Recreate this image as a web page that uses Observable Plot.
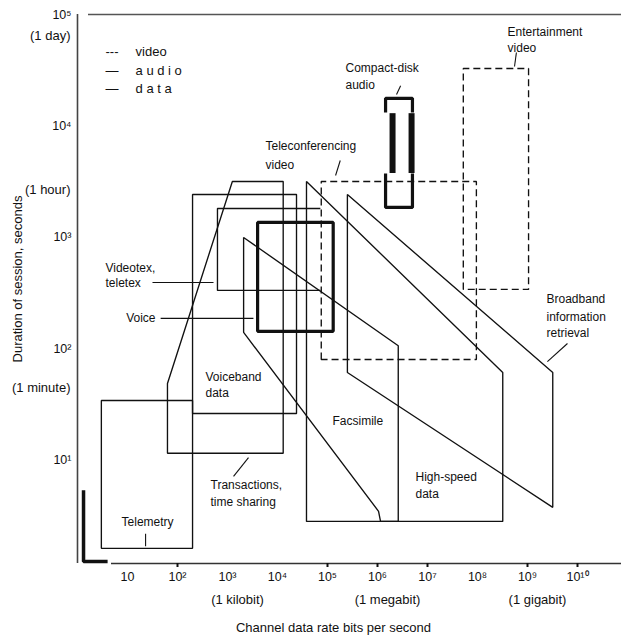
<!DOCTYPE html>
<html>
<head>
<meta charset="utf-8">
<script src="https://cdn.jsdelivr.net/npm/d3@7"></script>
<script src="https://cdn.jsdelivr.net/npm/@observablehq/plot@0.6"></script>
<style>
  html, body { margin: 0; padding: 0; background: #fff; }
  svg { display: block; }
</style>
</head>
<body>
<div id="chart"></div>
<script>
// ---- Data: [channel data rate (bits/s), session duration (s)] ----
const telemetry        = [[3, 34.5], [200, 34.5], [200, 1.63], [3, 1.63]];
const telemetryAudio   = [[1.32, 5.4], [1.32, 1.24], [4.0, 1.24]];
const transactions     = [[63, 11.6], [63, 49], [1250, 3180], [13000, 3180], [13000, 11.6]];
const voicebandData    = [[200, 26.4], [200, 2430], [24000, 2430], [24000, 26.4]];
const videotex         = [[72000, 1820], [630, 1820], [630, 335], [72000, 335]];
const voice            = [[4000, 144], [4000, 1365], [130000, 1365], [130000, 144]];
const facsimile        = [[2100, 1000], [2.6e6, 107], [2.6e6, 2.84], [1.15e6, 2.84], [1.05e6, 3.5], [2100, 141]];
const highSpeedData    = [[38000, 3180], [3.2e8, 61.5], [3.2e8, 2.84], [38000, 2.84]];
const broadband        = [[250000, 2430], [3.2e9, 61.5], [3.2e9, 3.8], [250000, 61.5]];
const teleconferencing = [[75000, 80.5], [75000, 3180], [9.5e7, 3180], [9.5e7, 80.5]];
const entertainment    = [[5.2e7, 342], [5.2e7, 32800], [1.05e9, 32800], [1.05e9, 342]];
const cdTop            = [[1.45e6, 13200], [1.45e6, 17700], [5.0e6, 17700], [5.0e6, 13200]];
const cdBottom         = [[1.45e6, 3750], [1.45e6, 1860], [5.0e6, 1860], [5.0e6, 3750]];
const cdBars           = [{x: 2.0e6, y1: 3750, y2: 12900}, {x: 4.8e6, y1: 3750, y2: 12900}];

// leader lines [x1, y1, x2, y2]
const leaders = [
  [31.6, 395, 525, 395],        // Videotex
  [46, 188, 3300, 188],         // Voice
  [2630, 10.6, 1320, 7.2],      // Transactions
  [2.5e9, 77, 6.3e9, 112],      // Broadband
  [1.45e5, 3600, 1.8e5, 4900],  // Teleconferencing
  [2.4e6, 19200, 2.9e6, 23000], // Compact-disk
  [6.0e8, 45600, 5.5e8, 34200], // Entertainment
  [23, 2.2, 23, 1.7]            // Telemetry
];

// labels (one entry per line), left-aligned
const labels = [
  {text: "Teleconferencing", x: 5750, y: 6550},
  {text: "video", x: 5750, y: 4430},
  {text: "Compact-disk", x: 229000, y: 32800},
  {text: "audio", x: 229000, y: 23100},
  {text: "Entertainment", x: 4.0e8, y: 69000},
  {text: "video", x: 4.0e8, y: 49500},
  {text: "Videotex,", x: 3.63, y: 527},
  {text: "teletex", x: 3.63, y: 386},
  {text: "Voiceband", x: 363, y: 55.5},
  {text: "data", x: 363, y: 39.9},
  {text: "Transactions,", x: 457, y: 5.97},
  {text: "time sharing", x: 457, y: 4.2},
  {text: "Facsimile", x: 126000, y: 22.4},
  {text: "High-speed", x: 5.75e6, y: 7.03},
  {text: "data", x: 5.75e6, y: 4.96},
  {text: "Broadband", x: 2.4e9, y: 278},
  {text: "information", x: 2.4e9, y: 192},
  {text: "retrieval", x: 2.4e9, y: 138},
  {text: "Telemetry", x: 7.6, y: 2.78}
];
// right-aligned labels
const labelsEnd = [{text: "Voice", x: 36.3, y: 188}];

// legend
const legendKeys  = [{text: "---", y: 46500}, {text: "—", y: 31500}, {text: "—", y: 21700}];
const legendNames = [{text: "video", y: 46500}, {text: "a u d i o", y: 31500}, {text: "d a t a", y: 21700}];

// axes
const xTicks = [10, 1e2, 1e3, 1e4, 1e5, 1e6, 1e7, 1e8, 1e9, 1e10];
const xTickLabels = ["10", "10²", "10³", "10⁴", "10⁵", "10⁶", "10⁷", "10⁸", "10⁹", "10¹⁰"];
const xTickMarks = [1e2, 1e5, 1e6, 1e7, 1e9, 1e10];
const xNotes = [1e3, 1e6, 1e9];
const xNoteLabels = ["(1 kilobit)", "(1 megabit)", "(1 gigabit)"];
const yTicks = [10, 1e2, 1e3, 1e4, 1e5];
const yTickLabels = ["10¹", "10²", "10³", "10⁴", "10⁵"];
const yNotes = [{label: "(1 day)", value: 86400}, {label: "(1 hour)", value: 3600}, {label: "(1 minute)", value: 60}];

const xMin = 1, xMax = 10 ** 10.88, yMin = 10 ** 0.076, yMax = 1e5;
const INK = "#111";

function shape(data, opts = {}) {
  return Plot.line(data, {
    x: d => d[0], y: d => d[1],
    curve: opts.open ? "linear" : "linear-closed",
    stroke: INK, strokeWidth: opts.w ?? 1.35,
    strokeDasharray: opts.dash, strokeLinejoin: "miter", strokeLinecap: "butt"
  });
}

const chart = Plot.plot({
  width: 621, height: 637,
  marginLeft: 77, marginRight: 0, marginTop: 14, marginBottom: 74,
  x: {type: "log", domain: [xMin, xMax]},
  y: {type: "log", domain: [yMin, yMax]},
  style: {fontFamily: "'Liberation Sans', Arial, sans-serif", fontSize: "12px", color: INK, background: "#fff"},
  marks: [
    // frame lines
    Plot.ruleX([xMin], {y1: yMin, y2: yMax, stroke: "#444", strokeWidth: 1.6}),
    Plot.ruleY([yMin], {x1: 10 ** 0.68, x2: xMax, stroke: "#333", strokeWidth: 1.5}),
    Plot.ruleY([yMax], {x1: 10 ** 0.22, x2: xMax, stroke: "#555", strokeWidth: 1.5}),

    // data shapes
    shape(telemetry),
    shape(telemetryAudio, {open: true, w: 3.5}),
    shape(transactions),
    shape(voicebandData),
    shape(videotex, {open: true}),
    shape(facsimile),
    shape(highSpeedData),
    shape(broadband),
    // video shapes (dashed)
    shape(teleconferencing, {dash: "7,4"}),
    shape(entertainment, {dash: "7,4"}),
    // audio shapes (heavy)
    shape(voice, {w: 3.2}),
    shape(cdTop, {open: true, w: 3.2}),
    shape(cdBottom, {open: true, w: 3.2}),
    Plot.ruleX(cdBars, {x: "x", y1: "y1", y2: "y2", stroke: INK, strokeWidth: 6}),

    // leaders and labels
    Plot.link(leaders, {x1: d => d[0], y1: d => d[1], x2: d => d[2], y2: d => d[3], stroke: INK, strokeWidth: 1.1}),
    Plot.text(labels, {x: "x", y: "y", text: "text", textAnchor: "start", fontSize: 12, fill: INK}),
    Plot.text(labelsEnd, {x: "x", y: "y", text: "text", textAnchor: "end", fontSize: 12, fill: INK}),

    // legend
    Plot.text(legendKeys, {x: 3.63, y: "y", text: "text", textAnchor: "start", fontSize: 13, fill: INK}),
    Plot.text(legendNames, {x: 14.5, y: "y", text: "text", textAnchor: "start", fontSize: 13, fill: INK}),

    // x axis
    Plot.axisX({ticks: xTickMarks, tickSize: 4, tickFormat: () => "", strokeWidth: 2, label: null}),
    Plot.axisX({ticks: xTicks, tickSize: 0, tickPadding: 9, fontSize: 12.5,
      tickFormat: v => xTickLabels[xTicks.indexOf(v)], label: null}),
    Plot.axisX({ticks: xNotes, tickSize: 0, tickPadding: 31, dx: 10, fontSize: 13,
      tickFormat: v => xNoteLabels[xNotes.indexOf(v)], label: null}),
    Plot.text(["Channel data rate bits per second"], {frameAnchor: "bottom", lineAnchor: "middle", textAnchor: "middle", dx: -16, dy: 64, fontSize: 13, fill: INK}),

    // y axis
    Plot.axisY({ticks: yTicks, tickSize: 0, tickPadding: 6, fontSize: 12.5,
      tickFormat: v => yTickLabels[yTicks.indexOf(v)], label: null}),
    Plot.text(yNotes, {x: xMin, y: "value", text: "label", textAnchor: "end", dx: -7, dy: 14, fontSize: 13, fill: INK}),
    Plot.text(["Duration of session, seconds"], {frameAnchor: "left", textAnchor: "middle", lineAnchor: "middle", rotate: -90, dx: -60, dy: -10, fontSize: 13, fill: INK})
  ]
});
document.getElementById("chart").appendChild(chart);
</script>
</body>
</html>
